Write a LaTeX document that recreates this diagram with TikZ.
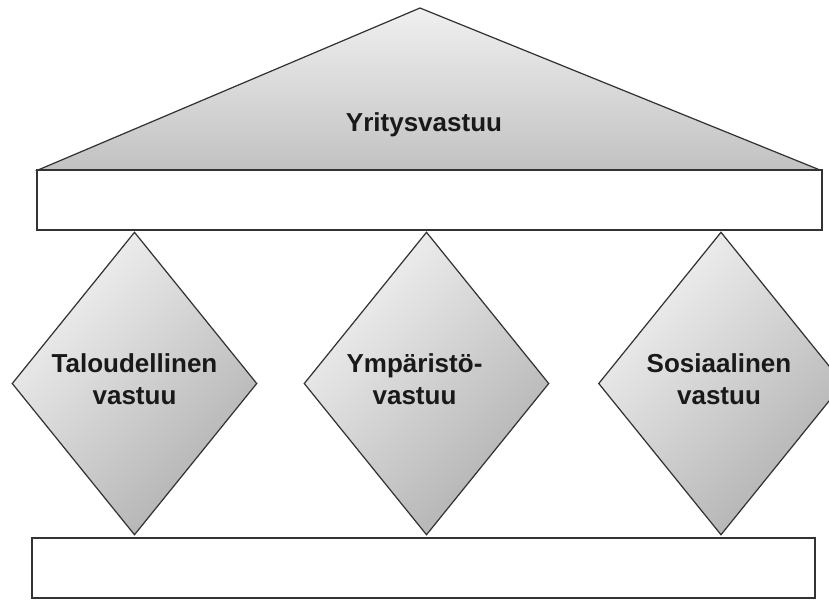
\documentclass[tikz,border=0pt]{standalone}
\usepackage{fontspec}
\setmainfont{Liberation Sans}
\usetikzlibrary{shapes.geometric}
\begin{document}
\begin{tikzpicture}[x=0.02cm,y=-0.02cm,
  edge/.style={draw=black!80,line width=0.7pt},
  pillar/.style={edge,diamond,minimum width=4.9cm,minimum height=6.06cm,inner sep=0pt,
    top color=gray!10,bottom color=gray!62,shading angle=45},
  beam/.style={edge,fill=white},
  lbl/.style={font=\bfseries\fontsize{14.8}{18.4}\selectfont,align=center,text=black!90}]
\useasboundingbox (0,0) rectangle (829,600);
\node[pillar] (d1) at (134.5,383.5) {};
\node[pillar] (d2) at (426.5,383.5) {};
\node[pillar] (d3) at (721,383.5) {};
\coordinate (apex) at (420,8);
\coordinate (bl) at (38,170);
\coordinate (br) at (820,170);
\shade[edge,top color=gray!12,bottom color=gray!48] (apex) -- (br) -- (bl) -- cycle;
\draw[beam] (37,170) rectangle (822,230);
\draw[beam] (32,538) rectangle (815,598);
\node[lbl] (roof) at (424,125) {Yritysvastuu};
\node[lbl] (t1) at ([yshift=0.08cm]d1) {Taloudellinen\\vastuu};
\node[lbl] (t2) at ([xshift=-0.24cm,yshift=0.08cm]d2) {Ympäristö-\\vastuu};
\node[lbl] (t3) at ([xshift=-0.04cm,yshift=0.08cm]d3) {Sosiaalinen\\vastuu};
\end{tikzpicture}
\end{document}
